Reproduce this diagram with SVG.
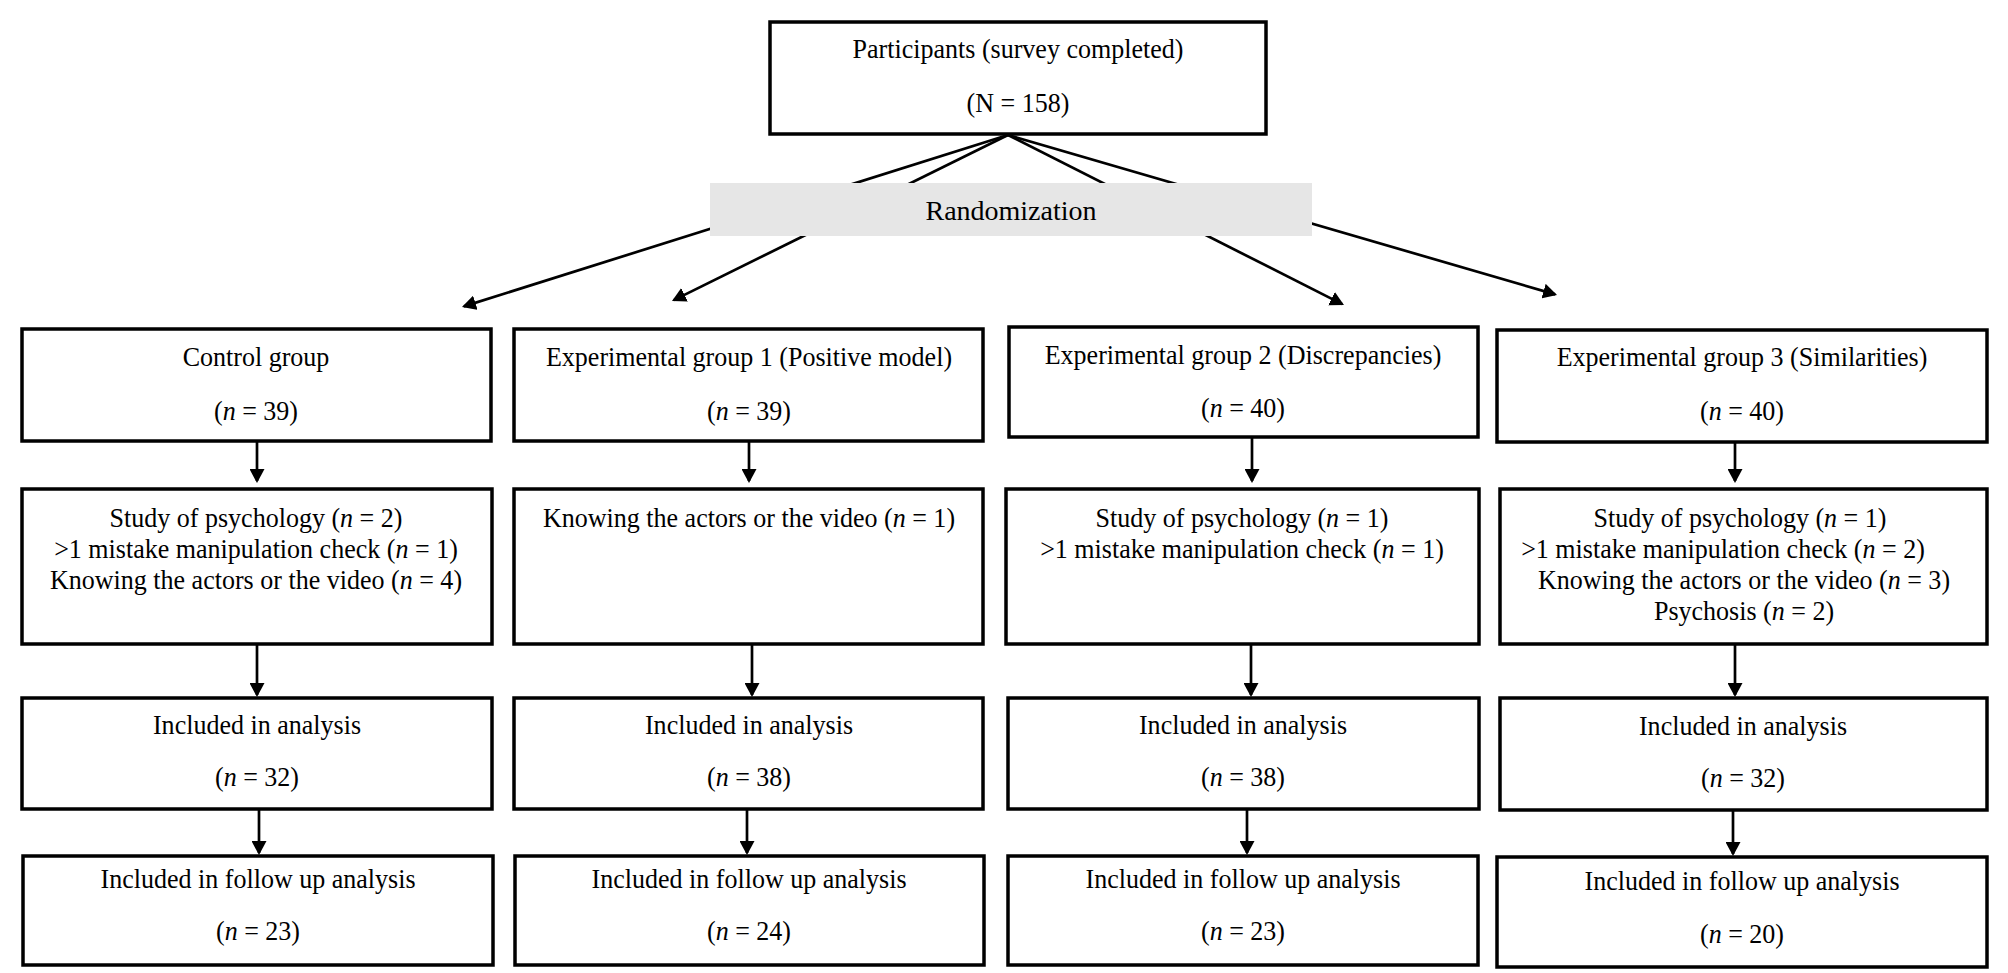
<svg xmlns="http://www.w3.org/2000/svg" width="2008" height="973" viewBox="0 0 2008 973">
<defs>
<style>
.box{fill:#fff;stroke:#000;stroke-width:3.5}
.rand{fill:#e6e6e6;stroke:none}
.t{font-family:"Liberation Serif","Times New Roman",serif;font-size:28px;text-anchor:middle;fill:#000}
.i{font-style:italic}
.conn line{stroke:#000;stroke-width:2.7;fill:none;marker-end:url(#ah)}
</style>
<marker id="ah" markerUnits="userSpaceOnUse" markerWidth="14" markerHeight="15" viewBox="0 0 14 15" refX="12" refY="7.5" orient="auto">
<path d="M0,0 L14,7.5 L0,15 Z" fill="#000"/>
</marker>
</defs>
<rect width="2008" height="973" fill="#fff"/>

<g id="connectors" class="conn">
<line x1="1008" y1="135" x2="463.9" y2="306.4"/>
<line x1="1008" y1="135" x2="673.8" y2="300.1"/>
<line x1="1008" y1="135" x2="1342.2" y2="304.1"/>
<line x1="1008" y1="135" x2="1555.1" y2="294.4"/>

<line x1="257" y1="441" x2="257" y2="481"/>
<line x1="257" y1="644" x2="257" y2="695"/>
<line x1="259" y1="809" x2="259" y2="853"/>

<line x1="749" y1="441" x2="749" y2="481"/>
<line x1="752" y1="644" x2="752" y2="695"/>
<line x1="747" y1="809" x2="747" y2="853"/>

<line x1="1252" y1="437" x2="1252" y2="481"/>
<line x1="1251" y1="644" x2="1251" y2="695"/>
<line x1="1247" y1="809" x2="1247" y2="853"/>

<line x1="1735" y1="442" x2="1735" y2="481"/>
<line x1="1735" y1="644" x2="1735" y2="695"/>
<line x1="1733" y1="810" x2="1733" y2="854"/>
</g>

<g id="participants">
<rect class="box" x="770" y="22" width="496" height="112"/>
<text class="t" transform="translate(1018,58) scale(0.93,1)">Participants (survey completed)</text>
<text class="t" transform="translate(1018,112) scale(0.93,1)">(N = 158)</text>
</g>

<g id="randomization">
<rect class="rand" x="710" y="183" width="602" height="53"/>
<text class="t" x="1011" y="220">Randomization</text>
</g>

<g id="control-group">
<rect class="box" x="22" y="329" width="469" height="112"/>
<text class="t" transform="translate(256,366) scale(0.93,1)">Control group</text>
<text class="t" transform="translate(256,420) scale(0.93,1)">(<tspan class="i">n</tspan> = 39)</text>
</g>
<g id="control-excluded">
<rect class="box" x="22" y="489" width="470" height="155"/>
<text class="t" transform="translate(256,527) scale(0.93,1)">Study of psychology (<tspan class="i">n</tspan> = 2)</text>
<text class="t" transform="translate(256,558) scale(0.93,1)">&gt;1 mistake manipulation check (<tspan class="i">n</tspan> = 1)</text>
<text class="t" transform="translate(256,589) scale(0.93,1)">Knowing the actors or the video (<tspan class="i">n</tspan> = 4)</text>
</g>
<g id="control-analysis">
<rect class="box" x="22" y="698" width="470" height="111"/>
<text class="t" transform="translate(257,734) scale(0.93,1)">Included in analysis</text>
<text class="t" transform="translate(257,786) scale(0.93,1)">(<tspan class="i">n</tspan> = 32)</text>
</g>
<g id="control-followup">
<rect class="box" x="23" y="856" width="470" height="109"/>
<text class="t" transform="translate(258,888) scale(0.93,1)">Included in follow up analysis</text>
<text class="t" transform="translate(258,940) scale(0.93,1)">(<tspan class="i">n</tspan> = 23)</text>
</g>

<g id="exp1-group">
<rect class="box" x="514" y="329" width="469" height="112"/>
<text class="t" transform="translate(749,366) scale(0.93,1)">Experimental group 1 (Positive model)</text>
<text class="t" transform="translate(749,420) scale(0.93,1)">(<tspan class="i">n</tspan> = 39)</text>
</g>
<g id="exp1-excluded">
<rect class="box" x="514" y="489" width="469" height="155"/>
<text class="t" transform="translate(749,527) scale(0.93,1)">Knowing the actors or the video (<tspan class="i">n</tspan> = 1)</text>
</g>
<g id="exp1-analysis">
<rect class="box" x="514" y="698" width="469" height="111"/>
<text class="t" transform="translate(749,734) scale(0.93,1)">Included in analysis</text>
<text class="t" transform="translate(749,786) scale(0.93,1)">(<tspan class="i">n</tspan> = 38)</text>
</g>
<g id="exp1-followup">
<rect class="box" x="515" y="856" width="469" height="109"/>
<text class="t" transform="translate(749,888) scale(0.93,1)">Included in follow up analysis</text>
<text class="t" transform="translate(749,940) scale(0.93,1)">(<tspan class="i">n</tspan> = 24)</text>
</g>

<g id="exp2-group">
<rect class="box" x="1009" y="327" width="469" height="110"/>
<text class="t" transform="translate(1243,364) scale(0.93,1)">Experimental group 2 (Discrepancies)</text>
<text class="t" transform="translate(1243,417) scale(0.93,1)">(<tspan class="i">n</tspan> = 40)</text>
</g>
<g id="exp2-excluded">
<rect class="box" x="1006" y="489" width="473" height="155"/>
<text class="t" transform="translate(1242,527) scale(0.93,1)">Study of psychology (<tspan class="i">n</tspan> = 1)</text>
<text class="t" transform="translate(1242,558) scale(0.93,1)">&gt;1 mistake manipulation check (<tspan class="i">n</tspan> = 1)</text>
</g>
<g id="exp2-analysis">
<rect class="box" x="1008" y="698" width="471" height="111"/>
<text class="t" transform="translate(1243,734) scale(0.93,1)">Included in analysis</text>
<text class="t" transform="translate(1243,786) scale(0.93,1)">(<tspan class="i">n</tspan> = 38)</text>
</g>
<g id="exp2-followup">
<rect class="box" x="1008" y="856" width="470" height="109"/>
<text class="t" transform="translate(1243,888) scale(0.93,1)">Included in follow up analysis</text>
<text class="t" transform="translate(1243,940) scale(0.93,1)">(<tspan class="i">n</tspan> = 23)</text>
</g>

<g id="exp3-group">
<rect class="box" x="1497" y="330" width="490" height="112"/>
<text class="t" transform="translate(1742,366) scale(0.93,1)">Experimental group 3 (Similarities)</text>
<text class="t" transform="translate(1742,420) scale(0.93,1)">(<tspan class="i">n</tspan> = 40)</text>
</g>
<g id="exp3-excluded">
<rect class="box" x="1500" y="489" width="487" height="155"/>
<text class="t" transform="translate(1740,527) scale(0.93,1)">Study of psychology (<tspan class="i">n</tspan> = 1)</text>
<text class="t" transform="translate(1723,558) scale(0.93,1)">&gt;1 mistake manipulation check (<tspan class="i">n</tspan> = 2)</text>
<text class="t" transform="translate(1744,589) scale(0.93,1)">Knowing the actors or the video (<tspan class="i">n</tspan> = 3)</text>
<text class="t" transform="translate(1744,620) scale(0.93,1)">Psychosis (<tspan class="i">n</tspan> = 2)</text>
</g>
<g id="exp3-analysis">
<rect class="box" x="1500" y="698" width="487" height="112"/>
<text class="t" transform="translate(1743,735) scale(0.93,1)">Included in analysis</text>
<text class="t" transform="translate(1743,787) scale(0.93,1)">(<tspan class="i">n</tspan> = 32)</text>
</g>
<g id="exp3-followup">
<rect class="box" x="1497" y="857" width="490" height="110"/>
<text class="t" transform="translate(1742,890) scale(0.93,1)">Included in follow up analysis</text>
<text class="t" transform="translate(1742,943) scale(0.93,1)">(<tspan class="i">n</tspan> = 20)</text>
</g>
</svg>
